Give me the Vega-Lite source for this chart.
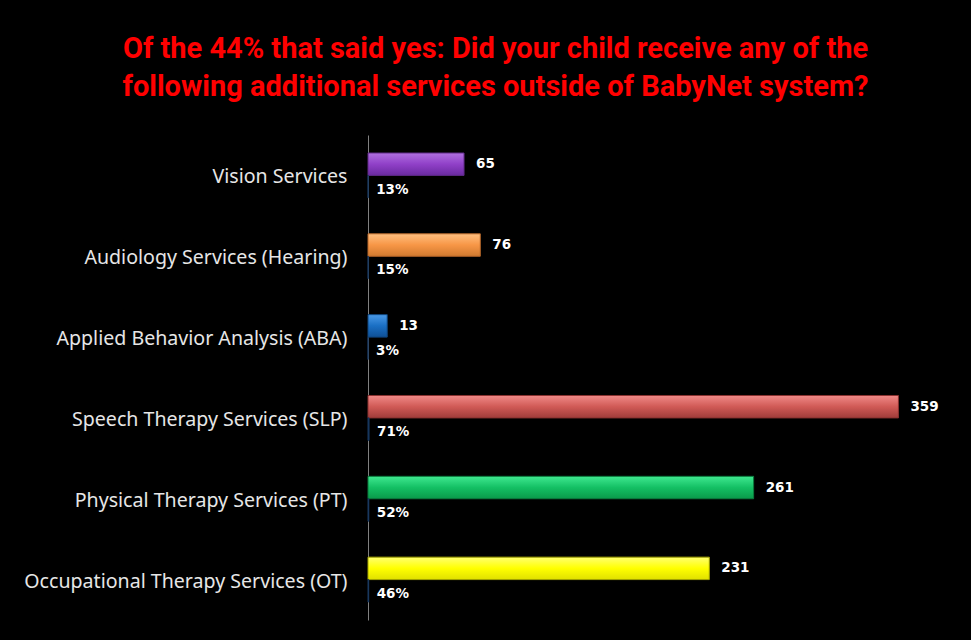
{
  "$schema": "https://vega.github.io/schema/vega-lite/v6.json",
  "autosize": "none",
  "width": 591,
  "height": 485,
  "padding": {"left": 368, "top": 135, "right": 12, "bottom": 20},
  "background": "#000000",
  "title": {
    "text": ["Of the 44% that said yes:  Did your child receive any of the", "following additional services outside of BabyNet system?"],
    "color": "#ff0000",
    "font": "Roboto",
    "fontSize": 29,
    "fontWeight": "bold",
    "anchor": "middle",
    "dx": -168,
    "offset": 33,
    "lineHeight": 38
  },
  "data": {
    "values": [
      {"service": "Vision Services", "count": 65, "pct": 0.13},
      {"service": "Audiology Services (Hearing)", "count": 76, "pct": 0.15},
      {"service": "Applied Behavior Analysis (ABA)", "count": 13, "pct": 0.03},
      {"service": "Speech Therapy Services (SLP)", "count": 359, "pct": 0.71},
      {"service": "Physical Therapy Services (PT)", "count": 261, "pct": 0.52},
      {"service": "Occupational Therapy Services (OT)", "count": 231, "pct": 0.46}
    ]
  },
  "transform": [{"fold": ["count", "pct"], "as": ["series", "value"]}],
  "encoding": {
    "y": {
      "field": "service",
      "type": "nominal",
      "sort": ["Vision Services", "Audiology Services (Hearing)", "Applied Behavior Analysis (ABA)", "Speech Therapy Services (SLP)", "Physical Therapy Services (PT)", "Occupational Therapy Services (OT)"],
      "scale": {"paddingInner": 0.445, "paddingOuter": 0.2225},
      "axis": {
        "title": null,
        "ticks": false,
        "domainColor": "#808080",
        "domainWidth": 1,
        "labelColor": "#e6e6e6",
        "labelFont": "Noto Sans",
        "labelFontSize": 19.6,
        "labelPadding": 21,
        "labelOffset": 2,
        "labelLimit": 400
      }
    },
    "yOffset": {
      "field": "series",
      "type": "nominal",
      "scale": {"domain": ["count", "pct"], "paddingInner": 0, "paddingOuter": 0}
    },
    "x": {
      "field": "value",
      "type": "quantitative",
      "scale": {"domain": [0, 400]},
      "axis": null
    }
  },
  "layer": [
    {
      "transform": [{"filter": "datum.series === 'count' && datum.service === 'Vision Services'"}],
      "mark": {"type": "bar", "strokeWidth": 1, "stroke": "#5e2a86",
        "color": {"gradient": "linear", "x1": 0, "y1": 0, "x2": 0, "y2": 1, "stops": [{"offset": 0, "color": "#b070e0"}, {"offset": 0.5, "color": "#9040c8"}, {"offset": 1, "color": "#6a2aa0"}]}}
    },
    {
      "transform": [{"filter": "datum.series === 'count' && datum.service === 'Audiology Services (Hearing)'"}],
      "mark": {"type": "bar", "strokeWidth": 1, "stroke": "#b5662a",
        "color": {"gradient": "linear", "x1": 0, "y1": 0, "x2": 0, "y2": 1, "stops": [{"offset": 0, "color": "#ffc080"}, {"offset": 0.5, "color": "#f79646"}, {"offset": 1, "color": "#d07a30"}]}}
    },
    {
      "transform": [{"filter": "datum.series === 'count' && datum.service === 'Applied Behavior Analysis (ABA)'"}],
      "mark": {"type": "bar", "strokeWidth": 1, "stroke": "#10467e",
        "color": {"gradient": "linear", "x1": 0, "y1": 0, "x2": 0, "y2": 1, "stops": [{"offset": 0, "color": "#4a9ae8"}, {"offset": 0.5, "color": "#1a6fc4"}, {"offset": 1, "color": "#0f5096"}]}}
    },
    {
      "transform": [{"filter": "datum.series === 'count' && datum.service === 'Speech Therapy Services (SLP)'"}],
      "mark": {"type": "bar", "strokeWidth": 1, "stroke": "#8a3230",
        "color": {"gradient": "linear", "x1": 0, "y1": 0, "x2": 0, "y2": 1, "stops": [{"offset": 0, "color": "#f08a88"}, {"offset": 0.5, "color": "#d05a56"}, {"offset": 1, "color": "#a03c3a"}]}}
    },
    {
      "transform": [{"filter": "datum.series === 'count' && datum.service === 'Physical Therapy Services (PT)'"}],
      "mark": {"type": "bar", "strokeWidth": 1, "stroke": "#0a7a3c",
        "color": {"gradient": "linear", "x1": 0, "y1": 0, "x2": 0, "y2": 1, "stops": [{"offset": 0, "color": "#40e890"}, {"offset": 0.5, "color": "#14c064"}, {"offset": 1, "color": "#0a9a4a"}]}}
    },
    {
      "transform": [{"filter": "datum.series === 'count' && datum.service === 'Occupational Therapy Services (OT)'"}],
      "mark": {"type": "bar", "strokeWidth": 1, "stroke": "#a5a500",
        "color": {"gradient": "linear", "x1": 0, "y1": 0, "x2": 0, "y2": 1, "stops": [{"offset": 0, "color": "#ffff70"}, {"offset": 0.5, "color": "#ffff00"}, {"offset": 1, "color": "#e0e000"}]}}
    },
    {
      "transform": [{"filter": "datum.series === 'pct'"}],
      "mark": {"type": "bar", "strokeWidth": 1, "stroke": "#17375e", "color": "#17375e"}
    },
    {
      "transform": [{"filter": "datum.series === 'count'"}],
      "mark": {"type": "text", "align": "left", "dx": 12, "color": "#ffffff", "font": "DejaVu Sans", "fontWeight": "bold", "fontSize": 13.5},
      "encoding": {"text": {"field": "value", "type": "quantitative", "format": "d"}}
    },
    {
      "transform": [{"filter": "datum.series === 'pct'"}],
      "mark": {"type": "text", "align": "left", "dx": 8, "dy": 3, "color": "#ffffff", "font": "DejaVu Sans", "fontWeight": "bold", "fontSize": 13.5},
      "encoding": {"text": {"field": "value", "type": "quantitative", "format": ".0%"}}
    }
  ],
  "config": {"view": {"stroke": null}}
}
